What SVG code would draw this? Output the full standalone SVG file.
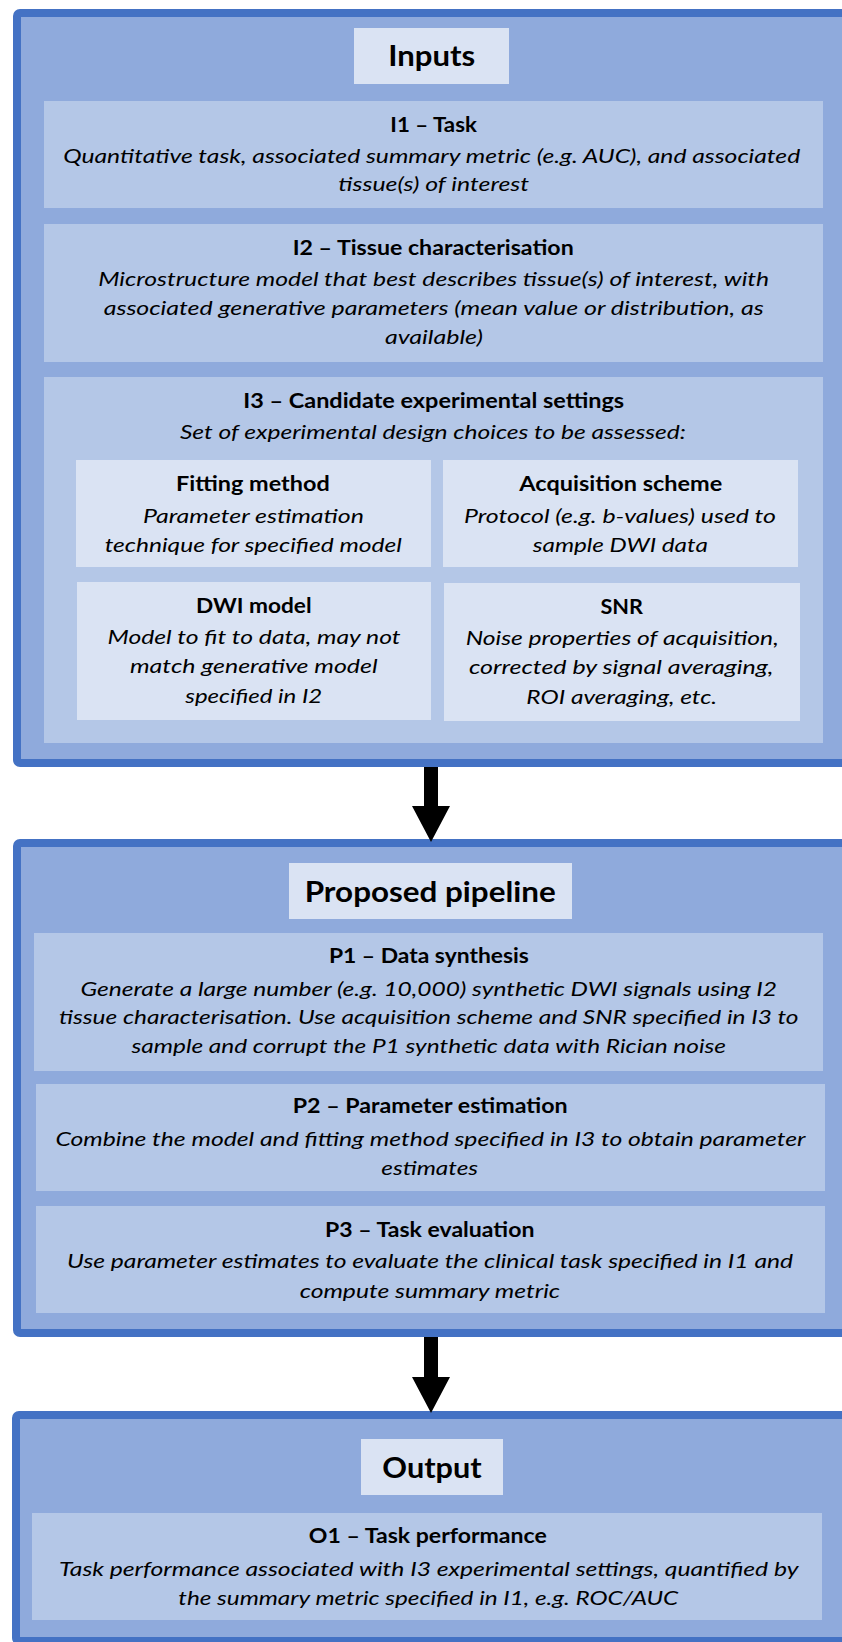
<svg xmlns="http://www.w3.org/2000/svg" width="842" height="1642" viewBox="0 0 842 1642">
<style>
.outer{fill:#8FAADC;stroke:#4472C4;stroke-width:8;stroke-linejoin:round}
.box{fill:#B4C7E7}
.sub{fill:#DAE3F3}
text{font-family:Lato,"Liberation Sans",sans-serif;fill:#000;text-anchor:middle}
.h{font-size:28px;font-weight:bold}
.t{font-size:20px;font-weight:bold}
.b{font-size:20px;font-style:italic}
.arrow{fill:#000}
</style>
<rect width="842" height="1642" fill="#fff"/>

<g id="inputs">
<rect class="outer" x="17" y="13" width="850" height="750" rx="3"/>
<rect class="sub" x="354" y="28" width="155" height="56"/>
<text class="h" x="431.8" y="66" textLength="87" lengthAdjust="spacingAndGlyphs">Inputs</text>
</g>

<g id="I1">
<rect class="box" x="44" y="101" width="779" height="107"/>
<text class="t" x="433.6" y="131.5" textLength="86.5" lengthAdjust="spacingAndGlyphs">I1 – Task</text>
<text class="b" x="431.7" y="162.5" textLength="737" lengthAdjust="spacingAndGlyphs">Quantitative task, associated summary metric (e.g. AUC), and associated</text>
<text class="b" x="433.7" y="191" textLength="190.7" lengthAdjust="spacingAndGlyphs">tissue(s) of interest</text>
</g>

<g id="I2">
<rect class="box" x="44" y="224" width="779" height="138"/>
<text class="t" x="433.2" y="255" textLength="281" lengthAdjust="spacingAndGlyphs">I2 – Tissue characterisation</text>
<text class="b" x="433.7" y="286" textLength="671" lengthAdjust="spacingAndGlyphs">Microstructure model that best describes tissue(s) of interest, with</text>
<text class="b" x="433.7" y="315" textLength="660" lengthAdjust="spacingAndGlyphs">associated generative parameters (mean value or distribution, as</text>
<text class="b" x="434" y="344" textLength="98" lengthAdjust="spacingAndGlyphs">available)</text>
</g>

<g id="I3">
<rect class="box" x="44" y="377" width="779" height="366"/>
<text class="t" x="433.7" y="408" textLength="381" lengthAdjust="spacingAndGlyphs">I3 – Candidate experimental settings</text>
<text class="b" x="432.9" y="439" textLength="506" lengthAdjust="spacingAndGlyphs">Set of experimental design choices to be assessed:</text>
</g>

<g id="fitting-method">
<rect class="sub" x="76" y="460" width="355" height="107"/>
<text class="t" x="252.9" y="491" textLength="153.6" lengthAdjust="spacingAndGlyphs">Fitting method</text>
<text class="b" x="253.5" y="523" textLength="221" lengthAdjust="spacingAndGlyphs">Parameter estimation</text>
<text class="b" x="253.2" y="552" textLength="297" lengthAdjust="spacingAndGlyphs">technique for specified model</text>
</g>

<g id="acquisition-scheme">
<rect class="sub" x="443" y="460" width="355" height="107"/>
<text class="t" x="620.8" y="491" textLength="203" lengthAdjust="spacingAndGlyphs">Acquisition scheme</text>
<text class="b" x="620" y="523" textLength="312" lengthAdjust="spacingAndGlyphs">Protocol (e.g. b-values) used to</text>
<text class="b" x="620.3" y="552" textLength="175" lengthAdjust="spacingAndGlyphs">sample DWI data</text>
</g>

<g id="dwi-model">
<rect class="sub" x="77" y="582" width="354" height="138"/>
<text class="t" x="253.8" y="613" textLength="115.5" lengthAdjust="spacingAndGlyphs">DWI model</text>
<text class="b" x="254" y="644" textLength="293" lengthAdjust="spacingAndGlyphs">Model to fit to data, may not</text>
<text class="b" x="253.8" y="673" textLength="247.6" lengthAdjust="spacingAndGlyphs">match generative model</text>
<text class="b" x="253.8" y="703" textLength="137" lengthAdjust="spacingAndGlyphs">specified in I2</text>
</g>

<g id="snr">
<rect class="sub" x="444" y="583" width="356" height="138"/>
<text class="t" x="621.7" y="614" textLength="42.5" lengthAdjust="spacingAndGlyphs">SNR</text>
<text class="b" x="622.2" y="645" textLength="313" lengthAdjust="spacingAndGlyphs">Noise properties of acquisition,</text>
<text class="b" x="621.2" y="674" textLength="304.5" lengthAdjust="spacingAndGlyphs">corrected by signal averaging,</text>
<text class="b" x="621.7" y="704" textLength="190.7" lengthAdjust="spacingAndGlyphs">ROI averaging, etc.</text>
</g>

<g id="pipeline">
<rect class="outer" x="17" y="843" width="850" height="490" rx="3"/>
<rect class="sub" x="289" y="863" width="283" height="56"/>
<text class="h" x="430.2" y="902" textLength="251" lengthAdjust="spacingAndGlyphs">Proposed pipeline</text>
</g>

<g id="P1">
<rect class="box" x="34" y="933" width="789" height="138"/>
<text class="t" x="428.9" y="963" textLength="200" lengthAdjust="spacingAndGlyphs">P1 – Data synthesis</text>
<text class="b" x="428.8" y="996" textLength="696.6" lengthAdjust="spacingAndGlyphs">Generate a large number (e.g. 10,000) synthetic DWI signals using I2</text>
<text class="b" x="428.8" y="1024" textLength="739.5" lengthAdjust="spacingAndGlyphs">tissue characterisation. Use acquisition scheme and SNR specified in I3 to</text>
<text class="b" x="428.8" y="1053" textLength="594.5" lengthAdjust="spacingAndGlyphs">sample and corrupt the P1 synthetic data with Rician noise</text>
</g>

<g id="P2">
<rect class="box" x="36" y="1084" width="789" height="107"/>
<text class="t" x="430.2" y="1113" textLength="275" lengthAdjust="spacingAndGlyphs">P2 – Parameter estimation</text>
<text class="b" x="430.5" y="1146" textLength="750" lengthAdjust="spacingAndGlyphs">Combine the model and fitting method specified in I3 to obtain parameter</text>
<text class="b" x="429.7" y="1175" textLength="96.7" lengthAdjust="spacingAndGlyphs">estimates</text>
</g>

<g id="P3">
<rect class="box" x="36" y="1206" width="789" height="107"/>
<text class="t" x="429.7" y="1237" textLength="209.4" lengthAdjust="spacingAndGlyphs">P3 – Task evaluation</text>
<text class="b" x="430.1" y="1268" textLength="726" lengthAdjust="spacingAndGlyphs">Use parameter estimates to evaluate the clinical task specified in I1 and</text>
<text class="b" x="429.9" y="1298" textLength="260.4" lengthAdjust="spacingAndGlyphs">compute summary metric</text>
</g>

<g id="output">
<rect class="outer" x="16" y="1415" width="851" height="226" rx="3"/>
<rect class="sub" x="361" y="1439" width="142" height="56"/>
<text class="h" x="432" y="1478" textLength="99.3" lengthAdjust="spacingAndGlyphs">Output</text>
</g>

<g id="O1">
<rect class="box" x="32" y="1513" width="790" height="107"/>
<text class="t" x="427.8" y="1543" textLength="238" lengthAdjust="spacingAndGlyphs">O1 – Task performance</text>
<text class="b" x="428.8" y="1576" textLength="739.5" lengthAdjust="spacingAndGlyphs">Task performance associated with I3 experimental settings, quantified by</text>
<text class="b" x="428.3" y="1605" textLength="500" lengthAdjust="spacingAndGlyphs">the summary metric specified in I1, e.g. ROC/AUC</text>
</g>

<g id="connectors">
<polygon class="arrow" points="424,767 438,767 438,806 450,806 431,842 412,806 424,806"/>
<polygon class="arrow" points="424,1337 438,1337 438,1377 450,1377 431,1413 412,1377 424,1377"/>
</g>
</svg>
